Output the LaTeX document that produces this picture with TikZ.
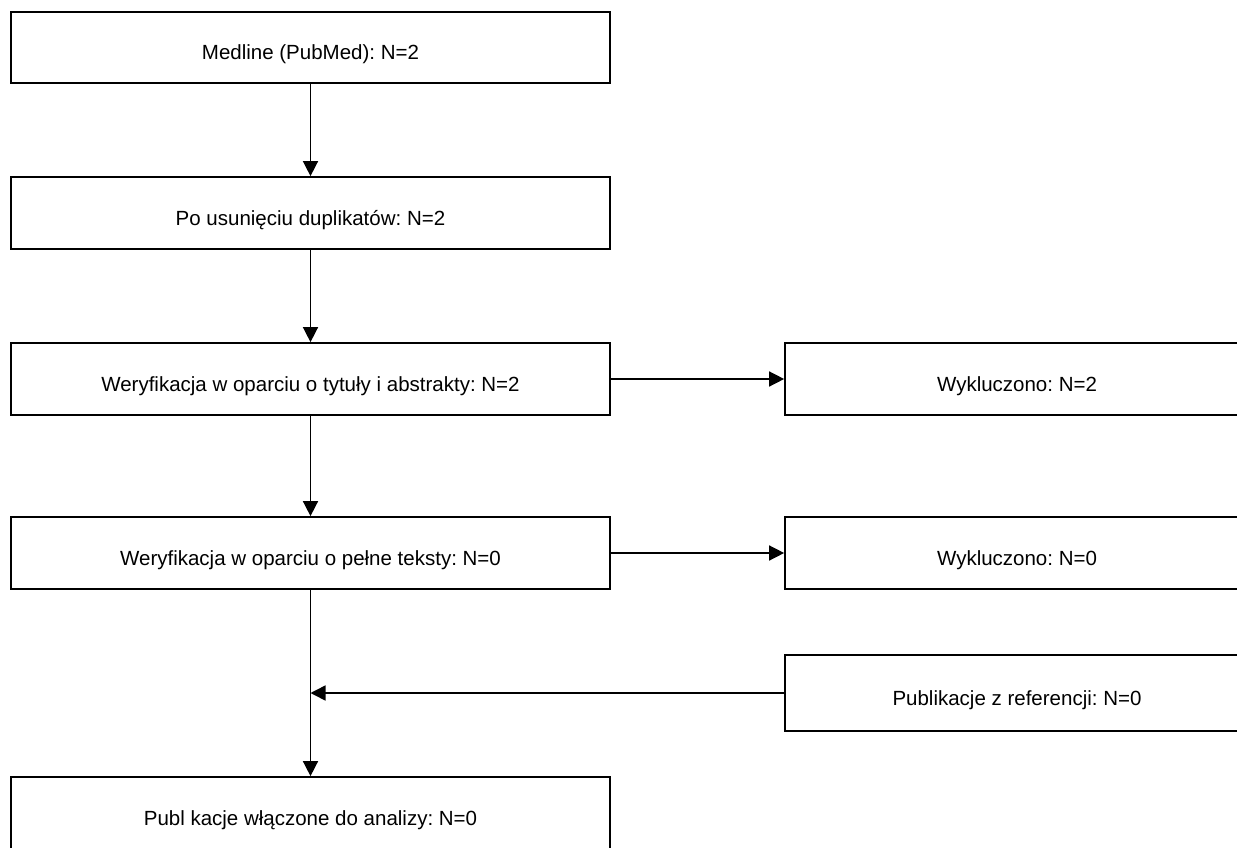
\documentclass[tikz,border=0pt]{standalone}
\usepackage{fontspec}
\setmainfont{Liberation Sans}
\frenchspacing
\usetikzlibrary{arrows.meta}

\tikzset{
    box/.style={draw, line width=1.7pt, minimum width=599pt, minimum height=72pt, inner sep=0pt,
        text height=25pt, text depth=0pt, font=\fontsize{20.5}{24}\selectfont},
    sidebox/.style={box, minimum width=464pt},
    arr/.style={line width=1.5pt, -{Triangle[length=15pt, width=15pt]}}
}

\begin{document}
\begin{tikzpicture}[x=1pt, y=-1pt]
    \useasboundingbox (0, 0) rectangle (1237, 848);

    \node[box, minimum height=71pt] (medline)  at (310.5, 47.5) {Medline (PubMed): N=2};
    \node[box] (duplikaty) at (310.5, 213)  {Po usunięciu duplikatów: N=2};
    \node[box] (tytuly)    at (310.5, 379)  {Weryfikacja w oparciu o tytuły i abstrakty: N=2};
    \node[box] (pelne)     at (310.5, 553)  {Weryfikacja w oparciu o pełne teksty: N=0};
    \node[box] (wlaczone)  at (310.5, 813)  {Publ kacje włączone do analizy: N=0};

    \node[sidebox] (wykl1)     at (1017, 379)  {Wykluczono: N=2};
    \node[sidebox] (wykl2)     at (1017, 553)  {Wykluczono: N=0};
    \node[sidebox, minimum height=76pt] (referencje) at (1017, 693) {Publikacje z referencji: N=0};

    \draw[arr] (medline) -- (duplikaty);
    \draw[arr] (duplikaty) -- (tytuly);
    \draw[arr] (tytuly) -- (wykl1);
    \draw[arr] (tytuly) -- (pelne);
    \draw[arr] (pelne) -- (wykl2);
    \draw[arr] (pelne) -- (wlaczone);
    \draw[arr] (referencje.west) -- (referencje.west -| pelne.south);
\end{tikzpicture}
\end{document}
